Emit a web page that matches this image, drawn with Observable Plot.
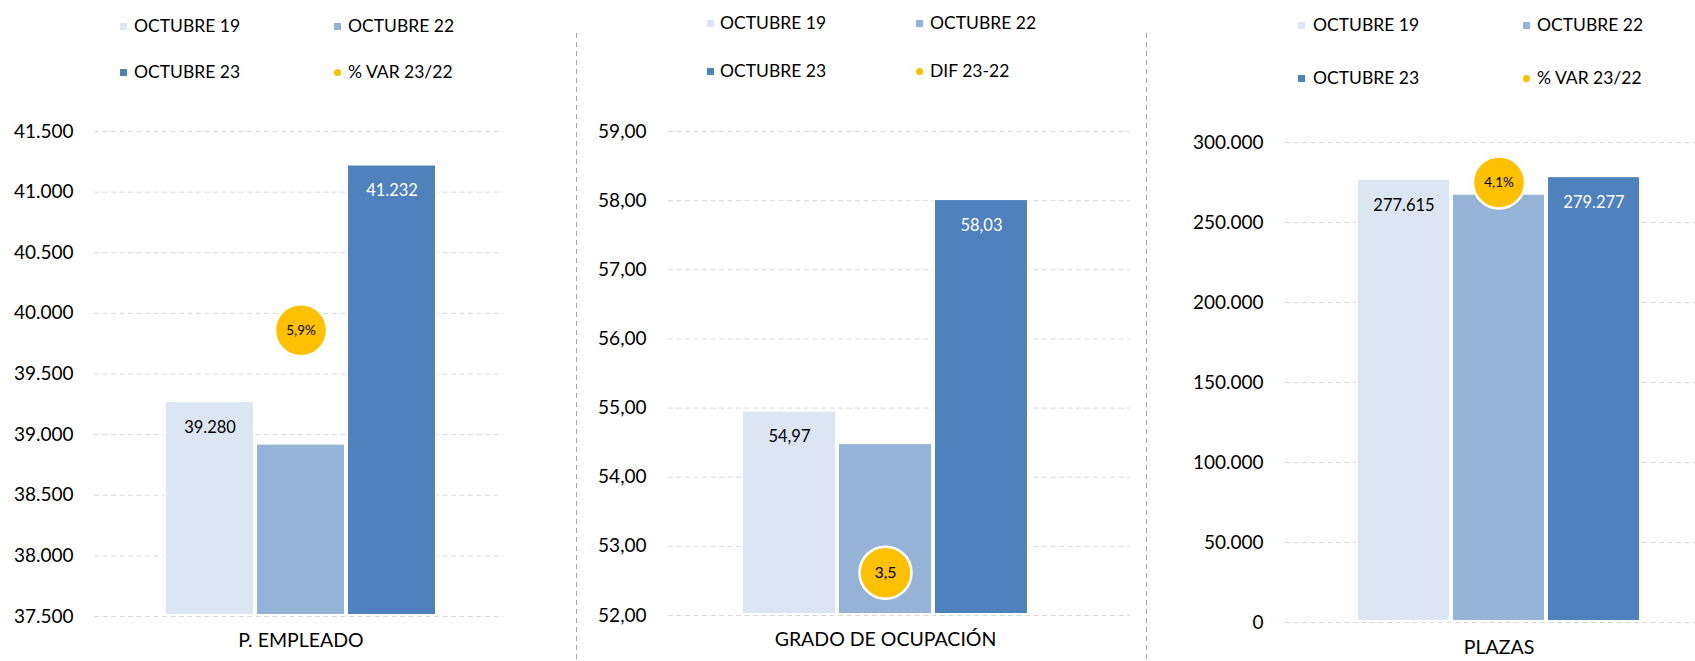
<!DOCTYPE html>
<html><head><meta charset="utf-8">
<script src="https://cdn.jsdelivr.net/npm/d3@7"></script>
<script src="https://cdn.jsdelivr.net/npm/@observablehq/plot@0.6"></script>
<style>
html,body{margin:0;padding:0;background:#fff;}
#root{position:relative;width:1695px;height:661px;overflow:hidden;font-family:Lato,"Open Sans",sans-serif;}
.panel{position:absolute;top:0;}
.legtxt{position:absolute;font-size:17.5px;color:#000;white-space:nowrap;line-height:18px;height:18px;}
.sw{position:absolute;width:7px;height:7px;}
.divider{position:absolute;top:33px;bottom:0;width:1px;background:repeating-linear-gradient(to bottom,#A6A6A6 0 5px,transparent 5px 9px);}
</style></head><body><div id="root"></div>
<script>
// ---------- DATA ----------
const series = ["OCTUBRE 19", "OCTUBRE 22", "OCTUBRE 23"];
const panelNames = ["P. EMPLEADO", "GRADO DE OCUPACIÓN", "PLAZAS"];
const empleado = [39280, 38930, 41232];
const ocupacion = [54.97, 54.50, 58.03];
const plazas = [277615, 268300, 279277];
const empleadoLabels = ["39.280", null, "41.232"];
const ocupacionLabels = ["54,97", null, "58,03"];
const plazasLabels = ["277.615", null, "279.277"];
const varLabels = ["5,9%", "3,5", "4,1%"];
const varLegend = ["% VAR 23/22", "DIF 23-22", "% VAR 23/22"];
const varLevel = [39860, 52.62, 275000]; // level of the variation bubble, in each panel's units
const ticksEmpleado = [37500, 38000, 38500, 39000, 39500, 40000, 40500, 41000, 41500];
const ticksOcupacion = [52, 53, 54, 55, 56, 57, 58, 59];
const ticksPlazas = [0, 50000, 100000, 150000, 200000, 250000, 300000];

// ---------- STYLE ----------
const barColors = ["#DCE6F2", "#95B3D7", "#4F81BD"];
const labelColors = ["#000000", "#000000", "#FFFFFF"];
const bubbleColor = "#FFC000";
const es = d3.formatLocale({decimal: ",", thousands: ".", grouping: [3], currency: ["", " €"]});
const fmtInt = es.format(",.0f");
const fmtDec = es.format(",.2f");

const values = [empleado, ocupacion, plazas];
const labels = [empleadoLabels, ocupacionLabels, plazasLabels];
const ticks = [ticksEmpleado, ticksOcupacion, ticksPlazas];
const formats = [fmtInt, fmtDec, fmtInt];

const layout = [
  {left: 0, width: 576, mL: 94, mR: 73, mT: 131, mB: 45, xRange: [163, 438], pad: 21, titleDy: 30, bubbleFont: 13.5,
   leg: {sw: [120, 334], tx: [134, 348], rows: [26, 72]}},
  {left: 576, width: 570, mL: 92, mR: 16, mT: 131, mB: 46, xRange: [165, 453], pad: 22, titleDy: 30, bubbleFont: 16,
   leg: {sw: [707, 916], tx: [720, 930], rows: [23, 71]}},
  {left: 1146, width: 549, mL: 139, mR: 0, mT: 142, mB: 39, xRange: [210, 495], pad: 22, titleDy: 31, bubbleFont: 13.5,
   leg: {sw: [1298, 1523], tx: [1313, 1537], rows: [25, 78]}}
];

const root = document.getElementById("root");

function addLegend(i) {
  const L = layout[i].leg;
  const items = [
    {name: series[0], color: barColors[0], col: 0, row: 0, dot: false},
    {name: series[1], color: barColors[1], col: 1, row: 0, dot: false},
    {name: series[2], color: barColors[2], col: 0, row: 1, dot: false},
    {name: varLegend[i], color: bubbleColor, col: 1, row: 1, dot: true}
  ];
  for (const it of items) {
    const sw = document.createElement("div");
    sw.className = "sw";
    sw.style.left = L.sw[it.col] + "px";
    sw.style.top = (L.rows[it.row] - 3.5) + "px";
    sw.style.background = it.color;
    if (it.dot) sw.style.borderRadius = "50%";
    root.appendChild(sw);
    const t = document.createElement("div");
    t.className = "legtxt";
    t.textContent = it.name;
    t.style.left = L.tx[it.col] + "px";
    t.style.top = (L.rows[it.row] - 9) + "px";
    root.appendChild(t);
  }
}

function addPanel(i) {
  const c = layout[i];
  const tk = ticks[i];
  const ymin = tk[0], ymax = tk[tk.length - 1];
  const data = series.map((s, j) => ({serie: s, value: values[i][j], label: labels[i][j], color: barColors[j], txt: labelColors[j]}));
  const bubble = [{serie: series[1], level: varLevel[i], text: varLabels[i]}];
  const svg = Plot.plot({
    width: c.width, height: 661,
    marginLeft: c.mL, marginRight: c.mR, marginTop: c.mT, marginBottom: c.mB,
    x: {domain: series, range: c.xRange, padding: 0, axis: null},
    y: {domain: [ymin, ymax], axis: null},
    color: {type: "identity"},
    style: {fontFamily: "Lato, 'Open Sans', sans-serif", fontSize: "19px", color: "#000", background: "transparent", overflow: "visible"},
    marks: [
      Plot.gridY(tk, {stroke: "#D9D9D9", strokeOpacity: 1, strokeDasharray: "5,3.5"}),
      Plot.axisY(tk, {tickSize: 0, tickPadding: c.pad, tickFormat: formats[i], fontSize: 19, fill: "#000"}),
      Plot.barY(data, {x: "serie", y1: ymin, y2: "value", fill: "white"}),
      Plot.barY(data, {x: "serie", y1: ymin, y2: "value", fill: "color", inset: 2}),
      Plot.text(data.filter(d => d.label), {x: "serie", y: "value", text: "label", dy: 27, fill: "txt", fontSize: 16.5}),
      Plot.dot(bubble, {x: "serie", y: "level", r: 26, fill: bubbleColor, stroke: "white", strokeWidth: 2.5}),
      Plot.text(bubble, {x: "serie", y: "level", text: "text", fontSize: c.bubbleFont, fill: "#000"}),
      Plot.text([panelNames[i]], {x: () => series[1], frameAnchor: "bottom", dy: c.titleDy, fontSize: 19.5, fill: "#000"})
    ]
  });
  svg.classList.add("panel");
  svg.style.left = c.left + "px";
  root.appendChild(svg);
  addLegend(i);
}

[0, 1, 2].forEach(addPanel);

for (const x of [576, 1146]) {
  const d = document.createElement("div");
  d.className = "divider";
  d.style.left = x + "px";
  root.appendChild(d);
}
</script></body></html>
